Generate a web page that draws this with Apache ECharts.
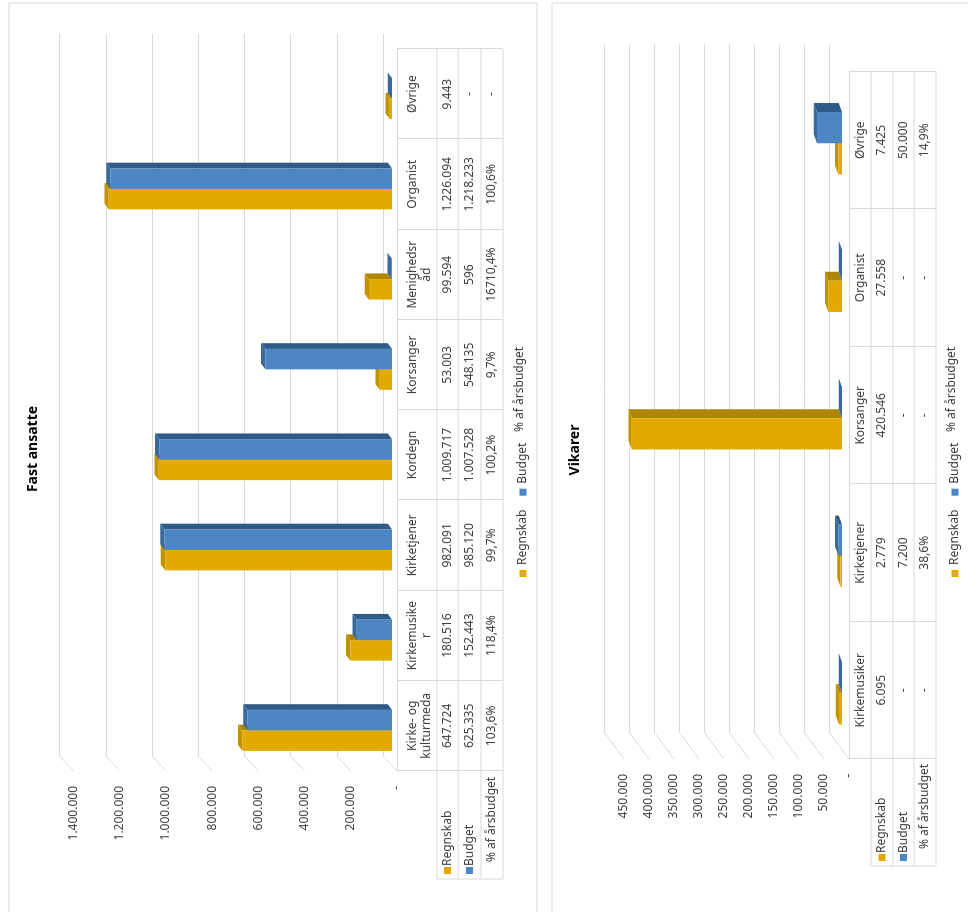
<!DOCTYPE html>
<html>
<head>
<meta charset="utf-8">
<script src="https://cdn.jsdelivr.net/npm/echarts@6/dist/echarts.min.js"></script>
<style>
  html, body { margin: 0; padding: 0; width: 968px; height: 912px; overflow: hidden; background: #fff; }
  /* chart is laid out upright, then turned on its side like the scanned page */
  #wrap { position: absolute; left: 28px; top: -28px; width: 912px; height: 968px; transform: rotate(-90deg); background: #fff; }
</style>
</head>
<body>
<div id="wrap"></div>
<script>
// Fast ansatte
var fastCats = ['Kirke- og\nkulturmeda', 'Kirkemusike\nr', 'Kirketjener', 'Kordegn', 'Korsanger', 'Menighedsr\nåd', 'Organist', 'Øvrige'];
var fastRegnskab = [647724, 180516, 982091, 1009717, 53003, 99594, 1226094, 9443];
var fastBudget = [625335, 152443, 985120, 1007528, 548135, 596, 1218233, 0];
var fastPct = ['103,6%', '118,4%', '99,7%', '100,2%', '9,7%', '16710,4%', '100,6%', '-'];
var fastTicks = [0, 200000, 400000, 600000, 800000, 1000000, 1200000, 1400000];

// Vikarer
var vikCats = ['Kirkemusiker', 'Kirketjener', 'Korsanger', 'Organist', 'Øvrige'];
var vikRegnskab = [6095, 2779, 420546, 27558, 7425];
var vikBudget = [0, 7200, 0, 0, 50000];
var vikPct = ['-', '38,6%', '-', '-', '14,9%'];
var vikTicks = [0, 50000, 100000, 150000, 200000, 250000, 300000, 350000, 400000, 450000];

var FONT = "'Noto Sans', sans-serif";
var TXT = '#404040';
var LINE = '#d9d9d9';
var YELLOW = '#E2AA00', YELLOW_DARK = '#B08500', YELLOW_TOP = '#C29300';
var BLUE = '#4C87C3', BLUE_DARK = '#2F5B89', BLUE_TOP = '#3A6A9C';

function fmt(n) {
  if (!n) return '-';
  return String(n).replace(/\B(?=(\d{3})+(?!\d))/g, '.');
}

var panels = [
  {
    title: 'Fast ansatte', titleU: 458, titleV: 31,
    cats: fastCats, reg: fastRegnskab, bud: fastBudget, pct: fastPct, ticks: fastTicks,
    left: 141, right: 863, zero: 397, top: 73.6,
    back: { du: 15, dv: -14 },
    bar: { du: -4.5, dv: -5, depthU: 5.7, depthV: -4.3 },
    rows: [397, 437, 458, 481, 503], nameMargin: 9, headLeft: 33,
    legendV: 520, pctLegendU: 480,
    border: [9, 537]
  },
  {
    title: 'Vikarer', titleU: 457, titleV: 573,
    cats: vikCats, reg: vikRegnskab, bud: vikBudget, pct: vikPct, ticks: vikTicks,
    left: 153, right: 840.5, zero: 849, top: 624,
    back: { du: 27, dv: -20 },
    bar: { du: -3, dv: -7, depthU: 9, depthV: -3.3 },
    rows: [849, 871, 893, 914, 936], nameMargin: 5, headLeft: 46,
    legendV: 952, pctLegendU: 480,
    border: [552, 990]
  }
];

var option = {
  animation: false,
  textStyle: { fontFamily: FONT },
  title: [], legend: [], grid: [], xAxis: [], yAxis: [], series: [], graphic: []
};

function bar3d(side, geo, colFront, colSide, colTop) {
  return function (params, api) {
    var i = api.value(0);
    var base = api.coord([i, 0]);
    var top = api.coord([i, api.value(1)]);
    var w = api.size([1, 0])[0] * 0.227;
    var x0 = base[0] + geo.du + (side === 0 ? -w : 0);
    var x1 = x0 + w;
    var yb = base[1] + geo.dv, yt = top[1] + geo.dv;
    var dx = geo.depthU, dy = geo.depthV;
    return {
      type: 'group',
      children: [
        { type: 'polygon', shape: { points: [[x1, yt], [x1 + dx, yt + dy], [x1 + dx, yb + dy], [x1, yb]] }, style: { fill: colSide } },
        { type: 'polygon', shape: { points: [[x0, yt], [x0 + dx, yt + dy], [x1 + dx, yt + dy], [x1, yt]] }, style: { fill: colTop } },
        { type: 'rect', shape: { x: x0, y: yt, width: w, height: yb - yt }, style: { fill: colFront } }
      ]
    };
  };
}

function rowAxis(gi, cats, margin, texts) {
  return {
    type: 'category', gridIndex: gi, data: cats, position: 'bottom',
    axisLine: { show: false }, axisTick: { show: false },
    axisLabel: {
      interval: 0, margin: margin, verticalAlign: 'middle', color: TXT, fontSize: 12, fontFamily: FONT,
      formatter: function (v, idx) { return texts[idx]; }
    }
  };
}

panels.forEach(function (p) {
  var gFront = option.grid.length, gBack = gFront + 1;
  var width = p.right - p.left, height = p.zero - p.top;
  var max = p.ticks[p.ticks.length - 1], step = p.ticks[1] - p.ticks[0];
  option.grid.push({ left: p.left, top: p.top, width: width, height: height, outerBoundsMode: 'none' });
  option.grid.push({ left: p.left + p.back.du, top: p.top + p.back.dv, width: width, height: height, outerBoundsMode: 'none' });

  var xMain = option.xAxis.length;
  option.xAxis.push({
    type: 'category', gridIndex: gFront, data: p.cats, position: 'bottom',
    axisLine: { show: true, lineStyle: { color: LINE } },
    axisTick: { show: true, interval: 0, length: p.rows[4] - p.rows[0], lineStyle: { color: LINE } },
    axisLabel: { interval: 0, margin: p.nameMargin, verticalAlign: 'top', lineHeight: 14, color: TXT, fontSize: 12, fontFamily: FONT }
  });
  var mid = function (a, b) { return (p.rows[a] + p.rows[b]) / 2 - p.zero; };
  option.xAxis.push(rowAxis(gFront, p.cats, mid(1, 2), p.reg.map(fmt)));
  option.xAxis.push(rowAxis(gFront, p.cats, mid(2, 3), p.bud.map(fmt)));
  option.xAxis.push(rowAxis(gFront, p.cats, mid(3, 4), p.pct));
  var xBack = option.xAxis.length;
  option.xAxis.push({ type: 'category', gridIndex: gBack, data: p.cats, show: false });

  var yMain = option.yAxis.length;
  option.yAxis.push({
    type: 'value', gridIndex: gFront, min: 0, max: max, interval: step,
    axisLine: { show: false }, axisTick: { show: false }, splitLine: { show: false },
    axisLabel: { margin: 15, color: TXT, fontSize: 12, fontFamily: FONT, formatter: function (v) { return v === 0 ? '-' : fmt(v); } }
  });
  var yBack = option.yAxis.length;
  option.yAxis.push({
    type: 'value', gridIndex: gBack, min: 0, max: max, interval: step,
    axisLine: { show: false }, axisTick: { show: false }, axisLabel: { show: false },
    splitLine: { show: true, lineStyle: { color: LINE, width: 1 } }
  });

  // floor lines running from the back wall to the front edge
  option.series.push({
    type: 'custom', name: 'floor', xAxisIndex: xBack, yAxisIndex: yBack, silent: true, clip: false,
    data: p.ticks.map(function (t) { return [0, t]; }),
    renderItem: function (params, api) {
      var pt = api.coord([0, api.value(1)]);
      var x = pt[0] - api.size([1, 0])[0] / 2;
      return { type: 'line', shape: { x1: x, y1: pt[1], x2: x - p.back.du, y2: pt[1] - p.back.dv }, style: { stroke: LINE, lineWidth: 1 } };
    }
  });

  option.series.push({
    type: 'custom', name: 'Regnskab', xAxisIndex: xMain, yAxisIndex: yMain, clip: false,
    itemStyle: { color: YELLOW },
    data: p.reg.map(function (v, i) { return [i, v]; }),
    renderItem: bar3d(0, p.bar, YELLOW, YELLOW_DARK, YELLOW_TOP)
  });
  option.series.push({
    type: 'custom', name: 'Budget', xAxisIndex: xMain, yAxisIndex: yMain, clip: false,
    itemStyle: { color: BLUE },
    data: p.bud.map(function (v, i) { return [i, v]; }),
    renderItem: bar3d(1, p.bar, BLUE, BLUE_DARK, BLUE_TOP)
  });

  option.title.push({
    text: p.title, left: p.titleU, top: p.titleV - 10, textAlign: 'center',
    textStyle: { fontSize: 14, fontWeight: 'bold', color: '#000', fontFamily: FONT }
  });
  option.legend.push({
    data: ['Regnskab', 'Budget'], left: 330, top: p.legendV - 8, itemWidth: 7, itemHeight: 7, itemGap: 14,
    icon: 'rect', selectedMode: false, textStyle: { fontSize: 12, color: TXT, fontFamily: FONT }
  });

  // table lines and row headers
  var g = option.graphic;
  g.push({ type: 'rect', shape: { x: -5, y: p.border[0], width: 914, height: p.border[1] - p.border[0] }, style: { fill: null, stroke: LINE, lineWidth: 1 }, silent: true });
  for (var r = 1; r < p.rows.length; r++) {
    g.push({ type: 'line', shape: { x1: p.headLeft, y1: p.rows[r], x2: p.right, y2: p.rows[r] }, style: { stroke: LINE, lineWidth: 1 } });
  }
  g.push({ type: 'line', shape: { x1: p.headLeft, y1: p.rows[1], x2: p.headLeft, y2: p.rows[4] }, style: { stroke: LINE, lineWidth: 1 } });
  var heads = [['Regnskab', YELLOW], ['Budget', BLUE]];
  heads.forEach(function (h, k) {
    var cy = (p.rows[k + 1] + p.rows[k + 2]) / 2;
    g.push({ type: 'rect', shape: { x: p.headLeft + 5, y: cy - 3.5, width: 7, height: 7 }, style: { fill: h[1] } });
    g.push({ type: 'text', x: p.headLeft + 13, y: cy, style: { text: h[0], fontSize: 12, fontFamily: FONT, fill: TXT, align: 'left', verticalAlign: 'middle' } });
  });
  g.push({ type: 'text', x: p.headLeft + 17, y: (p.rows[3] + p.rows[4]) / 2, style: { text: '% af årsbudget', fontSize: 12, fontFamily: FONT, fill: TXT, align: 'left', verticalAlign: 'middle' } });
  g.push({ type: 'text', x: p.pctLegendU, y: p.legendV, style: { text: '% af årsbudget', fontSize: 12, fontFamily: FONT, fill: TXT, align: 'left', verticalAlign: 'middle' } });
});

var chart = echarts.init(document.getElementById('wrap'));
chart.setOption(option);
</script>
</body>
</html>
